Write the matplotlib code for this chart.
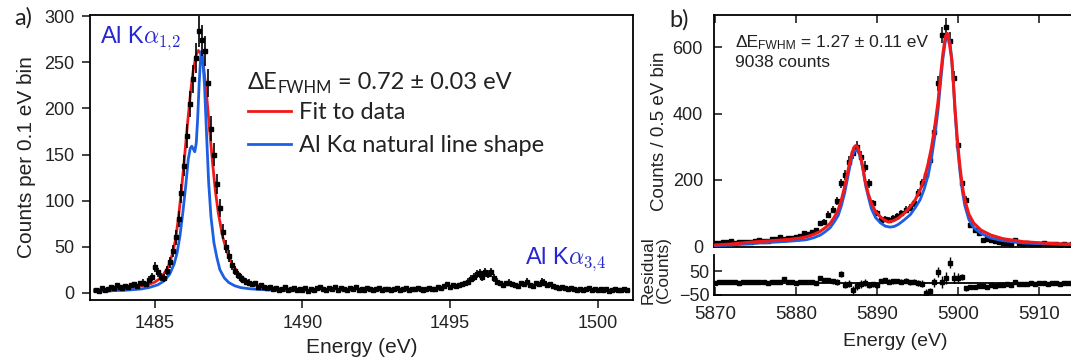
import numpy as np
import matplotlib.pyplot as plt

plt.rcParams['font.family'] = ['Liberation Sans', 'DejaVu Sans']
plt.rcParams['mathtext.fontset'] = 'cm'

# ---- panel a: Al K-alpha, 0.1 eV bins from 1483.0 eV ----
al_start, al_step = 1483.0, 0.1
al_counts = [
    3, 2, 5, 3, 4, 6, 5, 8, 6, 5,
    7, 6, 8, 9, 7, 10, 11, 9, 14, 17,
    28, 22, 17, 16, 24, 33, 45, 60, 80, 108,
    138, 170, 205, 232, 255, 284, 274, 262, 228, 178,
    150, 118, 92, 66, 50, 40, 30, 24, 19, 16,
    14, 12, 11, 9, 10, 6, 8, 6, 5, 6,
    4, 5, 3, 4, 6, 3, 4, 5, 3, 4,
    3, 5, 2, 4, 3, 5, 6, 4, 3, 5,
    4, 6, 3, 5, 4, 3, 5, 4, 6, 3,
    4, 3, 5, 4, 3, 4, 5, 3, 4, 4,
    3, 4, 5, 3, 4, 5, 3, 4, 4, 5,
    4, 3, 4, 5, 4, 4, 6, 5, 7, 9,
    6, 8, 7, 8, 9, 10, 12, 15, 17, 20,
    21, 17, 22, 20, 22, 16, 12, 10, 8, 10,
    11, 9, 8, 7, 10, 9, 12, 8, 7, 10,
    9, 12, 11, 8, 9, 7, 6, 5, 6, 5,
    4, 5, 4, 3, 4, 3, 4, 5, 3, 4,
    3, 4, 3, 4, 2, 3, 4, 3, 3, 4,
    3,
]

# fit to data
al_fit_e = [1482.95, 1483.5, 1484.0, 1484.4, 1484.8, 1485.0, 1485.2, 1485.4,
            1485.5, 1485.6, 1485.7, 1485.8, 1485.9, 1486.0, 1486.1, 1486.2,
            1486.3, 1486.4, 1486.47, 1486.55, 1486.65, 1486.75, 1486.85,
            1486.95, 1487.05, 1487.15, 1487.3, 1487.45, 1487.6, 1487.8,
            1488.0, 1488.2, 1488.5, 1488.8, 1489.3, 1489.9]
al_fit = [3, 3.8, 5, 6.5, 9, 11.5, 16, 25, 32, 43, 58, 82, 112, 146, 182, 215,
          242, 258, 263, 260, 245, 215, 178, 142, 110, 86, 60, 44, 32, 22,
          15.5, 11, 7.5, 5.5, 4, 3]

# natural line shape
al_nat_e = [1482.95, 1483.5, 1484.0, 1484.5, 1484.8, 1485.1, 1485.3, 1485.5,
            1485.65, 1485.75, 1485.85, 1485.95, 1486.05, 1486.13, 1486.2,
            1486.25, 1486.3, 1486.35, 1486.4, 1486.45, 1486.5, 1486.55,
            1486.58, 1486.62, 1486.68, 1486.75, 1486.82, 1486.9, 1487.0,
            1487.1, 1487.2, 1487.35, 1487.5, 1487.7, 1487.9, 1488.2, 1488.6,
            1489.2, 1489.85]
al_nat = [1.5, 2, 2.6, 3.8, 5.5, 8.5, 12.5, 20, 31, 43, 62, 88, 118, 145, 157,
          159, 156, 153, 162, 190, 228, 255, 262, 255, 225, 172, 120, 82, 54,
          38, 25, 16, 11, 7.5, 5.5, 4.2, 3.3, 2.6, 2]

# ---- panel b: 0.5 eV bins from 5870.0 eV ----
mn_start, mn_step = 5870.0, 0.5
mn_counts = [
    8, 10, 13, 12, 14, 10, 12, 11, 13, 12,
    15, 18, 14, 16, 20, 22, 26, 20, 24, 23,
    26, 30, 38, 36, 43, 48, 68, 72, 95, 109,
    135, 189, 215, 255, 280, 300, 270, 240, 189, 129,
    100, 80, 82, 80, 84, 90, 100, 109, 115, 129,
    160, 189, 215, 260, 345, 491, 637, 662, 620, 506,
    305, 189, 139, 63, 48, 40, 18, 20, 18, 15,
    12, 8, 10, 6, 18, 8, 6, 9, 7, 5,
    6, 8, 6, 5, 6, 4, 5, 4, 5,
]
mn_resid = [
    2, 4, 3, 5, 3, 4, 2, 3, 5, 3,
    4, 3, 6, 2, 4, 5, 3, 17, 4, 3,
    2, 5, 4, 3, 6, 2, 21, 14, 12, 8,
    4, 39, -8, -3, -30, -12, -5, 2, -8, -6,
    -10, 10, 13, 6, 7, 8, 5, 9, 4, 6,
    2, -3, -41, -36, 3, 47, 3, 23, 87, 23,
    23, 26, -23, -18, -15, -12, -12, -15, -10, -12,
    -8, -10, -6, -8, 3, -5, -3, -6, -2, -4,
    -2, 0, -3, -2, -1, -3, -2, -1, -2,
]

mn_fit_e = [5870.0, 5872.0, 5875.1, 5877.0, 5879.2, 5880.5, 5881.3, 5882.2,
            5882.9, 5883.6, 5884.2, 5884.7, 5885.2, 5885.6, 5886.0, 5886.3,
            5886.6, 5886.9, 5887.15, 5887.35, 5887.55, 5887.8, 5888.1,
            5888.5, 5888.9, 5889.3, 5889.8, 5890.4, 5890.9, 5891.4, 5892.0,
            5892.6, 5893.3, 5894.1, 5894.7, 5895.3, 5895.8, 5896.3, 5896.7,
            5897.1, 5897.5, 5897.8, 5898.1, 5898.4, 5898.65, 5898.9, 5899.2,
            5899.4, 5899.6, 5899.9, 5900.2, 5900.5, 5900.8, 5901.3, 5901.9,
            5902.8, 5904.0, 5905.5, 5908.0, 5911.0, 5914.5]
mn_fit = [3, 6, 13, 16, 20, 24, 28, 35, 43, 55, 68, 86, 109, 140, 179, 215,
          250, 280, 298, 303, 300, 285, 255, 199, 158, 129, 104, 88, 78, 73,
          76, 84, 98, 119, 140, 169, 202, 250, 298, 360, 435, 511, 580, 632,
          642, 612, 562, 490, 411, 315, 240, 180, 139, 96, 69, 48, 33, 22,
          13, 8, 5]

mn_nat_e = [5870.0, 5872.0, 5875.0, 5877.0, 5879.0, 5880.5, 5881.3, 5882.2,
            5883.0, 5883.6, 5884.2, 5884.7, 5885.2, 5885.6, 5886.0, 5886.3,
            5886.6, 5886.9, 5887.2, 5887.5, 5887.75, 5888.0, 5888.3, 5888.6,
            5889.0, 5889.3, 5889.8, 5890.4, 5891.0, 5891.6, 5892.1, 5892.6,
            5893.3, 5894.1, 5894.7, 5895.3, 5895.8, 5896.3, 5896.7, 5897.1,
            5897.5, 5897.8, 5898.1, 5898.4, 5898.75, 5899.0, 5899.2, 5899.4,
            5899.6, 5899.9, 5900.2, 5900.5, 5900.8, 5901.3, 5901.9, 5902.8,
            5904.0, 5905.5, 5908.0, 5911.0, 5914.5]
mn_nat = [1, 3, 8, 11, 14, 17, 19, 25, 33, 43, 55, 72, 92, 122, 160, 198, 235,
          268, 286, 290, 280, 262, 225, 180, 140, 112, 86, 70, 60, 57, 59, 65,
          78, 95, 116, 140, 172, 215, 265, 330, 410, 490, 565, 618, 637, 610,
          560, 490, 405, 300, 225, 165, 122, 80, 55, 38, 24, 16, 9, 6, 4]

RED = '#f01818'
BLUE = '#1c5fe4'
LABEL_BLUE = '#2626d2'
TXT = '#222222'

W, H = 1071, 358
fig = plt.figure(figsize=(W / 100, H / 100), dpi=100)


def box(l, t, r, b):
    return [l / W, 1 - b / H, (r - l) / W, (b - t) / H]


def fwhm_text(x, y, head, tail, size, family, sub=0.62):
    # "ΔE" + subscript FWHM + rest of the line, chained one after another
    t1 = fig.text(x / W, 1 - y / H, head, fontsize=size, family=family,
                  color=TXT, va='baseline')
    a2 = fig.add_artist(plt.Annotation('FWHM', xy=(1, 0), xycoords=t1,
                                       xytext=(0, -size * 0.12),
                                       textcoords='offset points',
                                       fontsize=size * sub, family=family,
                                       color=TXT, va='bottom'))
    fig.add_artist(plt.Annotation(tail, xy=(1, 0), xycoords=a2,
                                  xytext=(0, size * 0.12),
                                  textcoords='offset points',
                                  fontsize=size, family=family, color=TXT,
                                  va='bottom'))


# ---------------- panel a ----------------
ax = fig.add_axes(box(90, 15, 633, 300))
al_e = al_start + al_step * np.arange(len(al_counts))
ax.errorbar(al_e, al_counts, yerr=np.sqrt(al_counts), fmt='s', ms=3.2,
            color='black', ecolor='black', elinewidth=1.2, capsize=0,
            zorder=4)
ax.plot(al_fit_e, al_fit, color=RED, lw=2.0, zorder=3, label='Fit to data')
ax.plot(al_nat_e, al_nat, color=BLUE, lw=2.0, zorder=3,
        label='Al K\u03b1 natural line shape')
ax.set_xlim(1482.8, 1501.2)
ax.set_ylim(-8, 301.5)
ax.set_xticks([1485, 1490, 1495, 1500])
ax.set_yticks(range(0, 301, 50))
ax.tick_params(direction='out', length=6, width=1.2, labelsize=13,
               pad=5, colors=TXT)
for s in ax.spines.values():
    s.set_linewidth(1.3)
ax.set_xlabel('Energy (eV)', fontsize=15, color=TXT, labelpad=4)
ax.set_ylabel('Counts per 0.1 eV bin', fontsize=15, color=TXT, labelpad=6)

leg = ax.legend(loc='upper left', bbox_to_anchor=(248 / W, 1 - 102 / H),
                bbox_transform=fig.transFigure, frameon=False,
                prop={'family': 'Lato', 'size': 17}, handlelength=1.8,
                handletextpad=0.35, labelspacing=0.5, borderpad=0,
                borderaxespad=0)
for t in leg.get_texts():
    t.set_color(TXT)

fwhm_text(248, 89, '\u0394E', ' = 0.72 \u00b1 0.03 eV', 17, 'Lato', sub=0.7)

fig.text(100 / W, 1 - 43 / H, r'Al K$\alpha_{1,\!2}$', fontsize=17,
         color=LABEL_BLUE, va='baseline', math_fontfamily='cm')
fig.text(525 / W, 1 - 264 / H, r'Al K$\alpha_{3,\!4}$', fontsize=17,
         color=LABEL_BLUE, va='baseline', math_fontfamily='cm')
fig.text(14 / W, 1 - 18 / H, 'a)', fontsize=17, family='Lato', color=TXT,
         va='center')

# ---------------- panel b ----------------
bx = fig.add_axes(box(714, 15, 1076, 247))
rx = fig.add_axes(box(714, 255, 1076, 295), sharex=bx)
mn_e = mn_start + mn_step * np.arange(len(mn_counts))
mn_err = np.sqrt(mn_counts)

bx.errorbar(mn_e, mn_counts, yerr=mn_err, fmt='s', ms=3.0, color='black',
            ecolor='black', elinewidth=1.1, capsize=0, zorder=2)
bx.plot(mn_nat_e, mn_nat, color=BLUE, lw=2.0, zorder=3)
bx.plot(mn_fit_e, mn_fit, color=RED, lw=2.2, zorder=4)
bx.set_xlim(5869.9, 5914.5)
bx.set_ylim(-3, 697.5)
bx.set_yticks([0, 200, 400, 600])
bx.set_xticks([5870, 5880, 5890, 5900, 5910])
bx.tick_params(axis='y', direction='in', length=6, width=1.2, labelsize=13,
               pad=8, colors=TXT)
bx.tick_params(axis='x', direction='in', length=6, width=1.2, top=True,
               bottom=False, labelbottom=False, colors=TXT)
for s in bx.spines.values():
    s.set_linewidth(1.3)
bx.spines['right'].set_visible(False)
bx.set_ylabel('Counts / 0.5 eV bin', fontsize=13.5, color=TXT, labelpad=3)

rx.errorbar(mn_e, mn_resid, yerr=mn_err, fmt='s', ms=2.6, color='black',
            ecolor='black', elinewidth=1.0, capsize=0, zorder=3)
rx.axhline(0, color='black', lw=1.3, zorder=2)
rx.set_ylim(-51, 119)
rx.set_yticks([-50, 50])
rx.tick_params(axis='y', direction='in', length=6, width=1.2, labelsize=13,
               pad=3, colors=TXT)
rx.tick_params(axis='x', direction='in', length=6, width=1.2, labelsize=13.5,
               pad=8, colors=TXT)
rx.spines['top'].set_visible(False)
rx.spines['right'].set_visible(False)
for s in rx.spines.values():
    s.set_linewidth(1.3)
rx.set_xlabel('Energy (eV)', fontsize=14, color=TXT, labelpad=7)

fig.text(656 / W, 1 - 270 / H, 'Residual\n(Counts)', fontsize=12.5,
         color=TXT, rotation=90, ha='center', va='center',
         multialignment='center', linespacing=1.0)

fwhm_text(735, 47, '\u0394E', ' = 1.27 \u00b1 0.11 eV', 12.5,
          'Liberation Sans', sub=0.7)
fig.text(735 / W, 1 - 67 / H, '9038 counts', fontsize=12.5, color=TXT,
         va='baseline')
fig.text(669 / W, 1 - 20 / H, 'b)', fontsize=17, family='Lato', color=TXT,
         va='center')

fig.savefig('out.png', dpi=100)
